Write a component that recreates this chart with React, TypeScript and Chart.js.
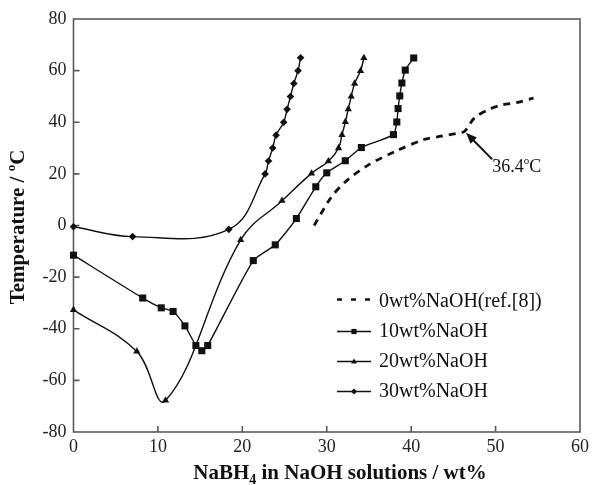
import { useEffect, useRef } from 'react';
import { Chart, registerables } from 'chart.js';

Chart.register(...registerables);

const SERIF = '"Liberation Serif", "Times New Roman", Times, serif';

// Axis ranges / ticks
const xRange = [0, 60];
const xStep = 10;
const yRange = [-80, 80];
const yStep = 20;

// 0 wt% NaOH (ref.[8]) – dashed
const naoh0X = [28.5, 30.5, 32.3, 35.0, 38.2, 41.5, 43.6, 45.3, 46.3, 47.5, 49.3, 50.9, 52.6, 54.5];
const naoh0Y = [0, 10.8, 17.2, 23.6, 28.8, 33.3, 34.6, 35.6, 36.4, 41.7, 45.1, 46.8, 47.7, 49.4];

// 10 wt% NaOH – squares
const naoh10X = [0, 8.2, 10.4, 11.8, 13.2, 14.5, 15.2, 15.9, 21.3, 23.9, 26.4, 28.7, 30.0, 32.2, 34.1, 37.9, 38.3, 38.45, 38.65, 38.9, 39.3, 40.3];
const naoh10Y = [-11.5, -28.1, -31.9, -33.3, -38.9, -46.5, -48.5, -46.5, -13.6, -7.5, 2.7, 15, 20.4, 25.1, 30.2, 35.2, 40.1, 45.3, 50.2, 55.2, 60.2, 64.9];

// 20 wt% NaOH – triangles
const naoh20X = [0, 7.5, 10.9, 19.8, 24.7, 28.2, 30.2, 31.4, 31.8, 32.2, 32.55, 32.9, 33.3, 34.0, 34.4];
const naoh20Y = [-32.7, -48.8, -67.8, -5.6, 9.6, 20.2, 24.9, 30, 35.1, 40.1, 45.1, 50, 55, 59.9, 64.9];

// 30 wt% NaOH – diamonds
const naoh30X = [0, 7, 18.4, 22.7, 23.1, 23.6, 24.0, 24.9, 25.3, 25.7, 26.1, 26.6, 26.9];
const naoh30Y = [-0.5, -4.3, -1.5, 20, 25, 30, 35, 40, 45, 50, 55, 60, 65];

const legendLabels = ['0wt%NaOH(ref.[8])', '10wt%NaOH', '20wt%NaOH', '30wt%NaOH'];

const annotationValue = 36.4;

const zip = (xs: number[], ys: number[]) => xs.map((x, i) => ({ x, y: ys[i] }));

const AXIS_COLOR = '#5a5a5a';
const INK = '#111111';

function drawMarker(ctx: CanvasRenderingContext2D, kind: string, x: number, y: number, s: number) {
  ctx.beginPath();
  if (kind === 'rect') {
    ctx.rect(x - s, y - s, 2 * s, 2 * s);
  } else if (kind === 'triangle') {
    ctx.moveTo(x, y - s * 1.2);
    ctx.lineTo(x + s * 1.1, y + s * 0.8);
    ctx.lineTo(x - s * 1.1, y + s * 0.8);
    ctx.closePath();
  } else if (kind === 'rectRot') {
    ctx.moveTo(x, y - s * 1.2);
    ctx.lineTo(x + s * 1.2, y);
    ctx.lineTo(x, y + s * 1.2);
    ctx.lineTo(x - s * 1.2, y);
    ctx.closePath();
  }
  ctx.fill();
}

const framePlugin = {
  id: 'frame',
  beforeDatasetsDraw(chart: any) {
    const { ctx, chartArea: a, scales } = chart;
    ctx.save();
    ctx.strokeStyle = AXIS_COLOR;
    ctx.lineWidth = 1.6;
    ctx.strokeRect(a.left, a.top, a.right - a.left, a.bottom - a.top);
    ctx.beginPath();
    for (let v = xRange[0] + xStep; v < xRange[1]; v += xStep) {
      const px = scales.x.getPixelForValue(v);
      ctx.moveTo(px, a.bottom);
      ctx.lineTo(px, a.bottom - 6);
    }
    for (let v = yRange[0] + yStep; v < yRange[1]; v += yStep) {
      const py = scales.y.getPixelForValue(v);
      ctx.moveTo(a.left, py);
      ctx.lineTo(a.left + 6, py);
    }
    ctx.stroke();
    ctx.restore();
  },
  afterDraw(chart: any) {
    const { ctx, scales } = chart;
    ctx.save();
    ctx.fillStyle = INK;
    ctx.strokeStyle = INK;

    // ---------- X axis title ----------
    const bold = (sz: number) => `bold ${sz}px ${SERIF}`;
    const parts1 = 'NaBH';
    const sub = '4';
    const parts2 = ' in NaOH solutions / wt%';
    ctx.font = bold(21);
    const w1 = ctx.measureText(parts1).width;
    const w3 = ctx.measureText(parts2).width;
    ctx.font = bold(14);
    const w2 = ctx.measureText(sub).width;
    const total = w1 + w2 + w3;
    let xx = 340 - total / 2;
    const yy = 474;
    ctx.textBaseline = 'middle';
    ctx.textAlign = 'left';
    ctx.font = bold(21);
    ctx.fillText(parts1, xx, yy);
    xx += w1;
    ctx.font = bold(14);
    ctx.fillText(sub, xx, yy + 6);
    xx += w2;
    ctx.font = bold(21);
    ctx.fillText(parts2, xx, yy);

    // ---------- Y axis title ----------
    ctx.save();
    ctx.translate(19, 227);
    ctx.rotate(-Math.PI / 2);
    const t1 = 'Temperature / ';
    const t2 = 'o';
    const t3 = 'C';
    ctx.font = bold(21);
    const a1 = ctx.measureText(t1).width;
    const a3 = ctx.measureText(t3).width;
    ctx.font = bold(13);
    const a2 = ctx.measureText(t2).width;
    let tx = -(a1 + a2 + a3) / 2;
    ctx.font = bold(21);
    ctx.fillText(t1, tx, 0);
    tx += a1;
    ctx.font = bold(13);
    ctx.fillText(t2, tx, -7);
    tx += a2;
    ctx.font = bold(21);
    ctx.fillText(t3, tx, 0);
    ctx.restore();

    // ---------- Legend ----------
    const kinds = ['dash', 'rect', 'triangle', 'rectRot'];
    ctx.font = `20px ${SERIF}`;
    for (let i = 0; i < legendLabels.length; i++) {
      const cy = 301.5 + i * 30;
      const x0 = 337;
      const x1 = 371;
      ctx.save();
      if (kinds[i] === 'dash') {
        ctx.lineWidth = 2.6;
        ctx.setLineDash([5, 9]);
        ctx.beginPath();
        ctx.moveTo(x0, cy - 2);
        ctx.lineTo(x1, cy - 2);
        ctx.stroke();
      } else {
        ctx.lineWidth = 1.4;
        ctx.beginPath();
        ctx.moveTo(x0, cy);
        ctx.lineTo(x1, cy);
        ctx.stroke();
        drawMarker(ctx, kinds[i], (x0 + x1) / 2, cy, 2.6);
      }
      ctx.restore();
      ctx.fillText(legendLabels[i], 379, cy);
    }

    // ---------- Annotation ----------
    const hx = scales.x.getPixelForValue(46.5);
    const hy = scales.y.getPixelForValue(35.9);
    const sx = scales.x.getPixelForValue(49.6);
    const sy = scales.y.getPixelForValue(25.6);
    const ang = Math.atan2(hy - sy, hx - sx);
    const L = 11;
    const W = 4.5;
    ctx.lineWidth = 2;
    ctx.beginPath();
    ctx.moveTo(sx, sy);
    ctx.lineTo(hx - Math.cos(ang) * L * 0.7, hy - Math.sin(ang) * L * 0.7);
    ctx.stroke();
    ctx.beginPath();
    ctx.moveTo(hx, hy);
    ctx.lineTo(hx - Math.cos(ang) * L - Math.sin(ang) * W, hy - Math.sin(ang) * L + Math.cos(ang) * W);
    ctx.lineTo(hx - Math.cos(ang) * L + Math.sin(ang) * W, hy - Math.sin(ang) * L - Math.cos(ang) * W);
    ctx.closePath();
    ctx.fill();

    const lx = scales.x.getPixelForValue(49.6);
    const ly = scales.y.getPixelForValue(22.5);
    ctx.font = `18px ${SERIF}`;
    const n1 = annotationValue.toFixed(1);
    const nw = ctx.measureText(n1).width;
    ctx.fillText(n1, lx, ly);
    ctx.font = `11px ${SERIF}`;
    ctx.fillText('o', lx + nw, ly - 6);
    const ow = ctx.measureText('o').width;
    ctx.font = `18px ${SERIF}`;
    ctx.fillText('C', lx + nw + ow, ly);

    ctx.restore();
  },
};

export default function App() {
  const ref = useRef<HTMLCanvasElement | null>(null);

  useEffect(() => {
    document.body.style.margin = '0';
    const canvas = ref.current;
    if (!canvas) return;

    const solid = (label: string, xs: number[], ys: number[], style: any, radius: number, tension: number) => ({
      label,
      data: zip(xs, ys),
      borderColor: INK,
      backgroundColor: INK,
      borderWidth: 1.4,
      pointStyle: style,
      pointRadius: radius,
      pointBorderWidth: 0,
      pointBackgroundColor: INK,
      pointHoverRadius: radius,
      tension,
      clip: false as any,
    });

    const chart = new Chart(canvas, {
      type: 'line',
      data: {
        datasets: [
          {
            label: legendLabels[0],
            data: zip(naoh0X, naoh0Y),
            borderColor: INK,
            borderWidth: 2.8,
            borderDash: [7, 6],
            pointRadius: 0,
            tension: 0.3,
            clip: false as any,
          },
          solid(legendLabels[1], naoh10X, naoh10Y, 'rect', 5, 0.2),
          solid(legendLabels[2], naoh20X, naoh20Y, 'triangle', 4.2, 0.4),
          solid(legendLabels[3], naoh30X, naoh30Y, 'rectRot', 3.8, 0.4),
        ] as any,
      },
      options: {
        animation: false,
        responsive: false,
        maintainAspectRatio: false,
        events: [],
        layout: { padding: { top: 19, right: 10, left: 0, bottom: 0 } },
        plugins: {
          legend: { display: false },
          tooltip: { enabled: false },
          title: { display: false },
        },
        scales: {
          x: {
            type: 'linear',
            min: xRange[0],
            max: xRange[1],
            ticks: {
              stepSize: xStep,
              font: { family: SERIF, size: 18 },
              color: '#222',
              padding: 4,
              maxRotation: 0,
            },
            grid: { display: false, drawTicks: false },
            border: { display: false },
            afterFit: (s: any) => {
              s.height = 53;
            },
          },
          y: {
            type: 'linear',
            min: yRange[0],
            max: yRange[1],
            ticks: {
              stepSize: yStep,
              font: { family: SERIF, size: 18 },
              color: '#222',
              padding: 7,
            },
            grid: { display: false, drawTicks: false },
            border: { display: false },
            afterFit: (s: any) => {
              s.width = 73.5;
            },
          },
        },
      },
      plugins: [framePlugin],
    });

    return () => chart.destroy();
  }, []);

  return <canvas ref={ref} width={593} height={485} style={{ display: 'block' }} />;
}
